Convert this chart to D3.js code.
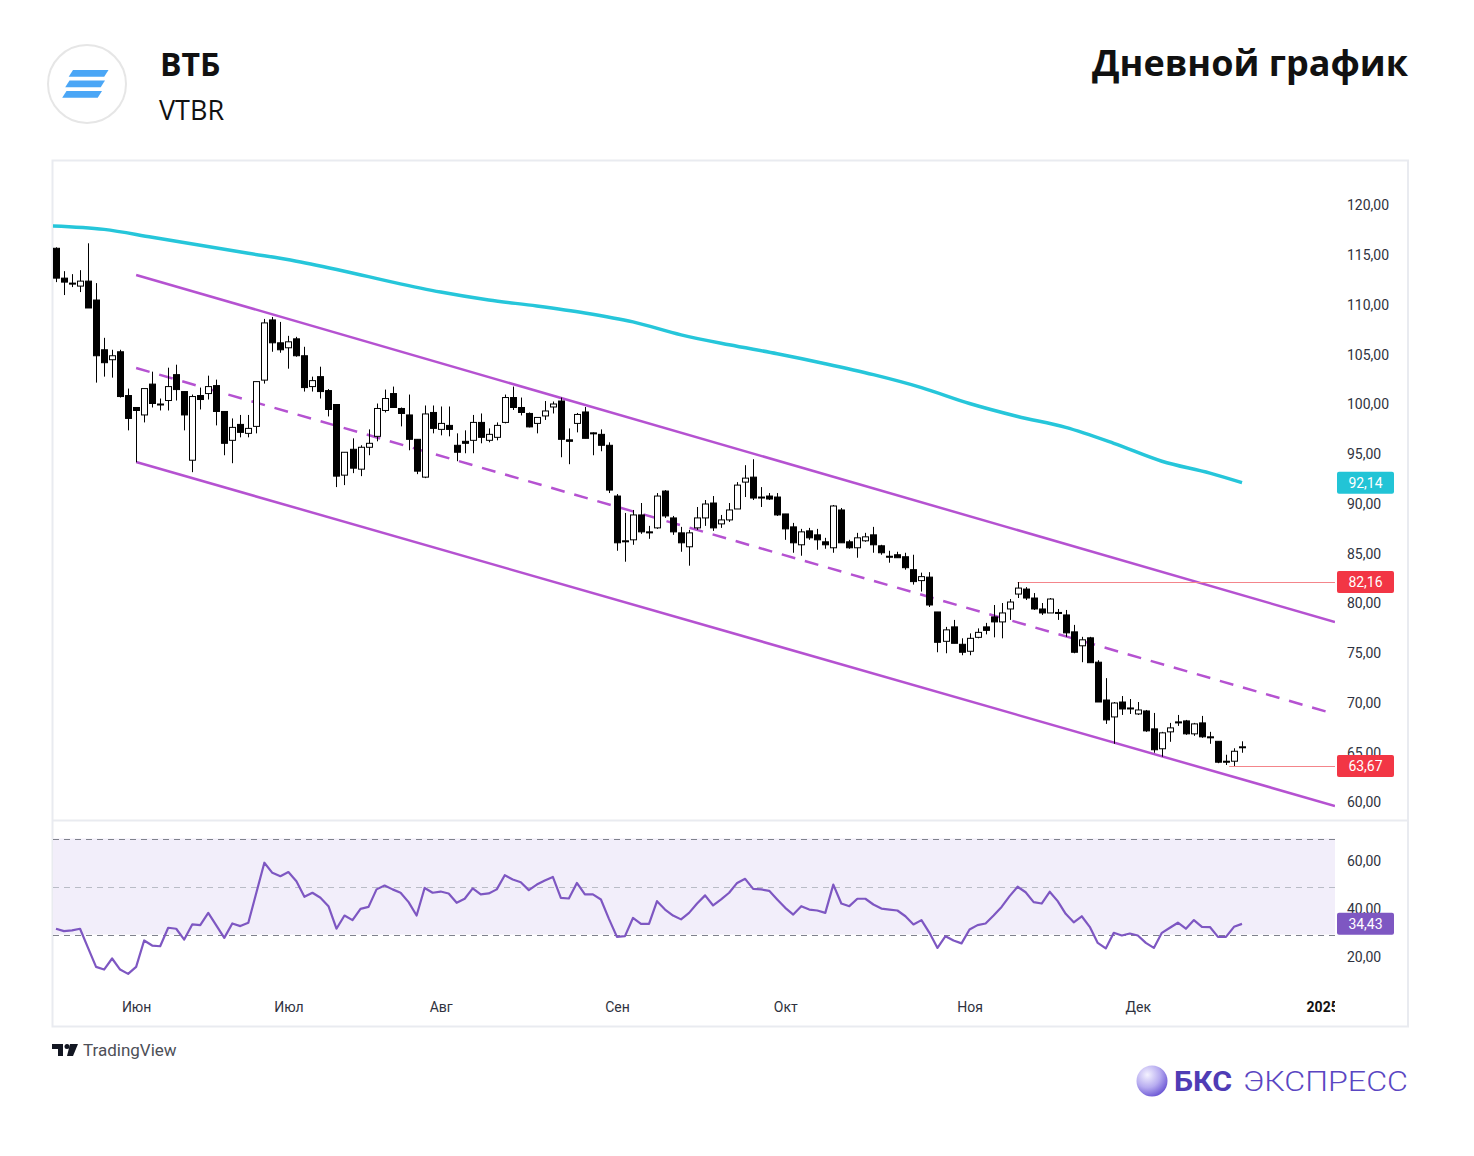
<!DOCTYPE html>
<html>
<head>
<meta charset="utf-8">
<script src="https://cdn.jsdelivr.net/npm/d3@7"></script>
<style>
  body { margin: 0; background: #fff; }
  svg { display: block; font-family: Roboto, "Noto Sans", sans-serif; }
</style>
</head>
<body>
<svg id="chart" width="1474" height="1156"></svg>
<script>
// daily candles [open, high, low, close], one row per trading day (late May - Dec 2024)
const candles = [
  [115.7,115.8,112.3,112.7],[112.7,113.4,111.0,112.3],[112.2,113.1,111.8,112.15],[111.9,113.5,111.3,112.4],
  [112.4,116.2,109.7,109.7],[110.5,112.2,102.2,104.9],[105.5,106.7,102.8,104.2],[104.5,105.5,102.7,104.9],
  [105.3,105.5,100.7,100.8],[100.9,101.6,97.4,98.6],[99.7,99.7,94.2,99.4],[98.95,101.6,98.2,101.6],
  [102.05,103.3,99.7,100.1],[100.0,100.6,99.4,100.05],[100.4,103.7,99.4,101.8],[103.0,104.0,100.4,101.5],
  [101.3,101.3,97.4,98.95],[94.4,101.0,93.2,100.8],[100.9,101.7,99.5,100.5],[101.1,102.9,100.5,101.8],
  [101.9,102.5,97.9,99.3],[99.3,99.3,94.9,96.1],[96.4,98.6,94.1,97.7],[98.0,98.95,96.7,97.2],
  [97.1,98.95,96.7,97.6],[97.8,102.3,97.1,102.3],[102.45,108.6,102.1,108.2],[108.5,108.8,105.3,106.2],
  [106.2,108.3,105.2,105.5],[105.7,106.9,103.6,106.3],[106.6,106.8,104.8,104.9],[104.9,105.8,101.3,101.7],
  [101.8,102.8,101.3,102.4],[102.8,103.8,100.6,101.3],[101.4,101.55,98.8,99.5],[100.0,100.0,91.7,92.8],
  [92.9,95.2,91.9,95.2],[95.5,96.6,93.1,93.6],[93.5,95.9,92.8,95.7],[95.7,97.5,94.9,96.1],
  [96.8,100.1,96.3,99.6],[99.4,101.5,99.2,100.6],[101.1,101.8,99.7,99.7],[99.6,99.7,97.8,99.1],
  [98.95,101.0,95.4,96.5],[96.5,96.5,93.0,93.3],[92.7,99.9,92.6,99.05],[99.2,99.9,97.1,97.6],
  [97.5,99.8,96.9,98.1],[97.9,99.8,96.8,97.5],[95.9,97.1,94.3,95.2],[96.3,97.4,95.1,96.1],
  [96.4,98.95,95.1,98.2],[98.2,99.1,96.1,96.7],[96.4,97.6,96.2,97.0],[96.7,98.2,96.4,97.9],
  [98.2,101.0,98.1,100.7],[100.7,101.8,99.45,99.7],[99.7,100.7,98.9,99.2],[99.1,99.2,97.7,97.75],
  [98.1,98.7,97.1,98.7],[98.85,100.35,98.45,99.35],[99.75,100.3,99.1,100.05],[100.35,100.7,94.7,96.5],
  [96.45,97.6,94.0,96.3],[98.1,99.15,97.2,99.0],[99.25,99.75,96.6,96.6],[97.15,97.2,94.9,97.05],
  [97.0,97.5,95.3,95.9],[95.9,96.2,91.1,91.4],[90.8,91.0,85.3,86.1],[86.3,89.1,84.2,86.2],
  [86.4,89.4,85.9,88.9],[88.9,90.1,87.0,87.2],[87.2,87.8,86.5,87.1],[87.6,91.1,87.5,90.8],
  [91.3,91.4,88.6,88.8],[88.6,88.8,86.9,87.2],[87.1,87.7,85.2,86.1],[85.7,87.4,83.8,87.1],
  [87.6,89.7,87.4,88.6],[88.6,90.4,87.8,90.0],[90.1,90.8,87.3,87.6],[88.0,88.9,87.6,88.4],
  [88.4,90.1,88.2,89.4],[89.5,92.2,89.5,91.9],[92.2,93.9,90.7,92.6],[92.7,94.5,90.4,90.6],
  [90.7,91.7,89.7,90.6],[90.8,91.1,90.4,90.5],[90.7,91.1,88.8,88.9],[89.0,89.0,86.4,87.5],
  [87.7,88.1,85.1,86.1],[85.9,87.5,84.8,87.2],[87.3,87.6,86.4,86.6],[86.9,87.5,85.4,86.4],
  [86.2,86.6,85.5,85.9],[85.6,89.9,85.1,89.8],[89.4,89.6,86.1,86.1],[86.2,86.4,85.5,85.6],
  [85.6,87.1,84.6,86.6],[86.3,87.1,86.2,86.7],[86.9,87.7,85.1,85.9],[85.8,85.9,84.9,85.1],
  [84.75,85.3,84.1,84.7],[84.9,85.2,84.6,84.6],[84.7,85.1,83.4,83.6],[83.4,84.9,81.9,82.2],
  [82.3,83.1,81.2,82.7],[82.65,83.15,79.65,79.85],[79.15,79.15,75.1,76.1],[76.2,77.65,75.0,77.35],
  [77.65,78.35,76.0,76.0],[75.9,76.5,74.8,75.1],[75.2,77.0,74.8,76.5],[76.6,77.5,76.5,77.1],
  [77.65,78.05,76.9,77.3],[78.65,79.85,76.6,78.15],[78.15,80.05,76.5,79.05],[79.45,80.45,78.35,80.15],
  [80.95,82.16,80.55,81.55],[81.45,81.65,80.35,80.55],[80.55,81.05,79.35,79.45],[79.45,80.05,78.85,79.05],
  [79.05,80.55,79.05,80.45],[79.1,79.45,78.35,79.0],[78.85,79.35,76.65,77.05],[77.15,77.85,75.0,75.1],
  [75.75,76.65,74.1,76.35],[76.55,76.65,74.05,74.05],[74.1,74.3,70.1,70.1],[70.3,72.5,67.9,68.3],
  [68.6,70.1,65.9,70.0],[70.1,70.7,68.8,69.4],[69.5,70.4,68.9,69.45],[68.9,70.1,68.8,69.3],
  [69.2,69.3,67.1,67.2],[67.4,69.0,65.0,65.3],[65.4,67.1,64.6,67.0],[67.1,68.0,66.1,67.5],
  [68.1,68.8,67.7,68.05],[68.2,68.3,66.8,66.9],[66.9,68.0,66.7,67.9],[68.0,68.7,66.5,66.6],
  [66.6,67.1,65.9,66.55],[66.15,66.15,63.95,64.05],[64.15,64.8,63.77,64.1],[64.15,65.45,63.67,65.15],
  [65.5,66.15,65.0,65.6]
];

// RSI(14), one value per candle
const rsiValues = [
  32.4,31.4,31.7,32.4,24.4,16.5,15.4,20.0,15.4,13.6,16.5,27.5,25.4,25.1,32.8,32.4,27.9,34.2,33.9,39.0,
  33.8,28.6,34.6,33.5,34.9,47.4,59.9,55.7,54.3,56.0,52.2,45.7,47.4,45.3,41.8,32.4,37.9,36.0,40.7,41.5,
  48.8,50.4,48.8,47.4,43.5,37.9,49.4,47.4,47.9,47.1,43.2,44.9,49.2,46.7,47.1,48.8,54.7,52.9,51.8,48.5,
  50.8,52.5,54.0,45.3,45.0,51.5,46.7,46.7,44.6,36.5,29.0,29.3,36.9,34.4,34.4,43.9,40.4,37.9,36.3,39.0,
  42.9,46.3,42.1,44.6,47.4,51.5,53.2,49.0,48.8,48.2,44.6,41.1,38.3,41.8,40.4,40.0,39.0,50.8,42.9,41.8,
  44.9,44.9,42.5,40.8,40.4,40.0,37.6,34.2,36.0,30.7,24.4,29.3,27.5,26.3,32.1,33.9,34.6,37.9,41.5,46.0,
  49.9,47.6,43.5,42.9,47.8,43.9,38.6,35.1,37.6,33.2,26.5,24.2,30.7,29.6,30.4,29.6,26.5,24.4,30.7,32.8,
  34.9,32.4,36.0,33.2,33.1,29.0,29.0,33.2,34.43
];

// long moving average, read at [candle index, value]
const maPoints = [
  [-0.4,117.95],[6,117.6],[12,116.8],[18,116.0],[24,115.2],[30,114.4],[36,113.4],[42,112.3],[48,111.3],
  [54,110.5],[60,109.9],[66,109.2],[72,108.3],[78,107.0],[84,106.0],[90,105.1],[96,104.1],[102,103.0],
  [108,101.7],[114,100.1],[120,98.8],[126,97.7],[132,96.1],[138,94.3],[144,93.1],[148,92.14]
];

// descending channel, [candle index, price] end points
const channelUpper = [[10, 113.02], [159.6, 78.14]];
const channelMid = [[10, 103.67], [159.6, 68.89]];
const channelLower = [[10, 94.22], [159.6, 59.65]];

const priceTicks = [60, 65, 70, 75, 80, 85, 90, 95, 100, 105, 110, 115, 120];
const rsiTicks = [20, 40, 60];
const rsiLevels = [30, 50, 70];
const monthTicks = [
  { i: 10, label: 'Июн' }, { i: 29, label: 'Июл' }, { i: 48, label: 'Авг' }, { i: 70, label: 'Сен' },
  { i: 91, label: 'Окт' }, { i: 114, label: 'Ноя' }, { i: 135, label: 'Дек' }, { i: 158, label: '2025' }
];
// horizontal marker lines: [from candle index, price]
const highMark = [120, 82.16];
const lowMark = [146.4, 63.67];

const svg = d3.select('#chart');
const fmt = v => d3.format('.2f')(v).replace('.', ',');

const left = 53, right = 1335, frameRight = 1408;
const x = d3.scaleLinear().domain([0, 148]).range([56, 1242]);
const y = d3.scaleLinear().domain([60, 120]).range([802.5, 205.5]);
const yR = d3.scaleLinear().domain([30, 70]).range([934.5, 838.5]);

//
// header
//
svg.append('circle').attr('cx', 87).attr('cy', 84).attr('r', 39)
  .attr('fill', '#fff').attr('stroke', '#e6e6e6').attr('stroke-width', 2);
const stripes = [[73, 70], [69.5, 80.5], [66.5, 91]];
stripes.forEach(([sx, sy]) => {
  svg.append('path')
    .attr('d', `M${sx},${sy} h35.5 l-4.3,6.8 h-35.5 z`)
    .attr('fill', '#4aa6f6');
});
svg.append('text').attr('x', 160).attr('y', 76).text('ВТБ')
  .attr('font-family', '"Open Sans", Roboto, sans-serif')
  .attr('font-size', 32).attr('font-weight', 700).attr('fill', '#111');
svg.append('text').attr('x', 159).attr('y', 120).text('VTBR')
  .attr('font-family', '"Open Sans", Roboto, sans-serif')
  .attr('font-size', 27).attr('fill', '#111');
svg.append('text').attr('x', 1408).attr('y', 76).text('Дневной график')
  .attr('font-family', '"Open Sans", Roboto, sans-serif')
  .attr('text-anchor', 'end').attr('font-size', 36).attr('font-weight', 700).attr('fill', '#111');

//
// frame and pane separator
//
svg.append('rect').attr('x', 52.5).attr('y', 160.5).attr('width', frameRight - 52.5).attr('height', 866)
  .attr('fill', 'none').attr('stroke', '#e9ebf0').attr('stroke-width', 2);
svg.append('line').attr('x1', 53).attr('x2', frameRight).attr('y1', 820.5).attr('y2', 820.5)
  .attr('stroke', '#e9ebf0').attr('stroke-width', 2);

const defs = svg.append('defs');
defs.append('clipPath').attr('id', 'clipPrice')
  .append('rect').attr('x', left).attr('y', 161).attr('width', right - left).attr('height', 659);
defs.append('clipPath').attr('id', 'clipRsi')
  .append('rect').attr('x', left).attr('y', 822).attr('width', right - left).attr('height', 170);
defs.append('clipPath').attr('id', 'clipTime')
  .append('rect').attr('x', left).attr('y', 990).attr('width', right - left).attr('height', 36);

//
// price pane
//
const price = svg.append('g').attr('clip-path', 'url(#clipPrice)');

const line = d3.line().x(d => x(d[0])).y(d => y(d[1]));

price.append('path').datum(maPoints)
  .attr('d', d3.line().x(d => x(d[0])).y(d => y(d[1])).curve(d3.curveMonotoneX))
  .attr('fill', 'none').attr('stroke', '#26c6da').attr('stroke-width', 3.5);

[channelUpper, channelLower].forEach(c => {
  price.append('path').datum(c).attr('d', line)
    .attr('fill', 'none').attr('stroke', '#b552d1').attr('stroke-width', 2.5);
});
price.append('path').datum(channelMid).attr('d', line)
  .attr('fill', 'none').attr('stroke', '#b552d1').attr('stroke-width', 2.5)
  .attr('stroke-dasharray', '14,10');

// max / min marker lines
[highMark, lowMark].forEach(m => {
  price.append('line').attr('x1', x(m[0])).attr('x2', right)
    .attr('y1', Math.round(y(m[1])) + 0.5).attr('y2', Math.round(y(m[1])) + 0.5)
    .attr('stroke', '#f4858b').attr('stroke-width', 1);
});

const bars = price.selectAll('g.candle').data(candles).join('g').attr('class', 'candle');
bars.append('line')
  .attr('x1', (d, i) => Math.round(x(i)) + 0.5).attr('x2', (d, i) => Math.round(x(i)) + 0.5)
  .attr('y1', d => y(d[1])).attr('y2', d => y(d[2]))
  .attr('stroke', '#000').attr('stroke-width', 1);
bars.append('rect')
  .attr('x', (d, i) => Math.round(x(i)) - 2.5)
  .attr('width', 6)
  .attr('y', d => y(Math.max(d[0], d[3])))
  .attr('height', d => Math.max(1, Math.abs(y(d[0]) - y(d[3]))))
  .attr('fill', d => (d[3] >= d[0] ? '#fff' : '#000'))
  .attr('stroke', '#000').attr('stroke-width', 1);

// price scale
const yAxis = svg.append('g').attr('transform', `translate(${right + 9},0)`)
  .call(d3.axisRight(y).tickValues(priceTicks).tickSize(0).tickPadding(3).tickFormat(fmt));
yAxis.select('.domain').remove();
yAxis.selectAll('text').attr('font-size', 14).attr('fill', '#2f3240').attr('font-family', 'Roboto, sans-serif');

//
// RSI pane
//
svg.append('rect').attr('x', left).attr('width', right - left)
  .attr('y', yR(70)).attr('height', yR(30) - yR(70)).attr('fill', '#f2eefa');
rsiLevels.forEach(v => {
  svg.append('line').attr('x1', left).attr('x2', right)
    .attr('y1', Math.round(yR(v)) + 0.5).attr('y2', Math.round(yR(v)) + 0.5)
    .attr('stroke', v === 50 ? '#b9bcc6' : '#7f828d').attr('stroke-width', 1)
    .attr('stroke-dasharray', '6,5');
});
svg.append('g').attr('clip-path', 'url(#clipRsi)')
  .append('path').datum(rsiValues)
  .attr('d', d3.line().x((d, i) => x(i)).y(d => yR(d)))
  .attr('fill', 'none').attr('stroke', '#7e57c2').attr('stroke-width', 2.2)
  .attr('stroke-linejoin', 'round');

const rAxis = svg.append('g').attr('transform', `translate(${right + 9},-1)`)
  .call(d3.axisRight(yR).tickValues(rsiTicks).tickSize(0).tickPadding(3).tickFormat(fmt));
rAxis.select('.domain').remove();
rAxis.selectAll('text').attr('font-size', 14).attr('fill', '#2f3240').attr('font-family', 'Roboto, sans-serif');

//
// last value badges
//
const badges = [
  { v: 92.14, yy: y(92.14), fill: '#22c4d6' },
  { v: highMark[1], yy: y(highMark[1]), fill: '#f23645' },
  { v: lowMark[1], yy: y(lowMark[1]), fill: '#f23645' },
  { v: rsiValues[rsiValues.length - 1], yy: yR(rsiValues[rsiValues.length - 1]), fill: '#7e57c2' }
];
badges.forEach(b => {
  svg.append('rect').attr('x', right + 2).attr('y', b.yy - 11).attr('width', 57).attr('height', 22)
    .attr('rx', 2).attr('fill', b.fill);
  svg.append('text').attr('x', right + 30.5).attr('y', b.yy + 5).text(fmt(b.v))
    .attr('text-anchor', 'middle').attr('font-size', 14).attr('fill', '#fff');
});

//
// time scale
//
const xAxis = svg.append('g').attr('clip-path', 'url(#clipTime)')
  .append('g').attr('transform', 'translate(0,999)')
  .call(d3.axisBottom(x).tickValues(monthTicks.map(d => d.i)).tickSize(0).tickPadding(3)
    .tickFormat(i => monthTicks.find(d => d.i === i).label));
xAxis.select('.domain').remove();
xAxis.selectAll('text').attr('font-size', 14).attr('fill', '#2f3240').attr('font-family', 'Roboto, sans-serif');
xAxis.selectAll('text').filter(i => i === 158).attr('font-weight', 700).attr('fill', '#111');

//
// footer
//
svg.append('path').attr('d', 'M52,1044 h11 v12 h-5 v-7 h-6 z').attr('fill', '#131722');
svg.append('circle').attr('cx', 67).attr('cy', 1046.5).attr('r', 2.5).attr('fill', '#131722');
svg.append('path').attr('d', 'M70,1044 h8 l-5,12 h-6 z').attr('fill', '#131722');
svg.append('text').attr('x', 83).attr('y', 1056).text('TradingView')
  .attr('font-size', 17).attr('fill', '#4d4f57');

const grad = defs.append('radialGradient').attr('id', 'sphere')
  .attr('cx', '35%').attr('cy', '30%').attr('r', '75%');
grad.append('stop').attr('offset', '0%').attr('stop-color', '#f4f2ff');
grad.append('stop').attr('offset', '55%').attr('stop-color', '#b7acf0');
grad.append('stop').attr('offset', '100%').attr('stop-color', '#6a55d4');
svg.append('circle').attr('cx', 1152).attr('cy', 1081).attr('r', 15.5).attr('fill', 'url(#sphere)');
svg.append('text').attr('x', 1174).attr('y', 1091).text('БКС')
  .attr('font-size', 27).attr('font-weight', 700).attr('fill', '#4f3cb5')
  .attr('textLength', 58).attr('lengthAdjust', 'spacingAndGlyphs');
svg.append('text').attr('x', 1243).attr('y', 1091).text('ЭКСПРЕСС')
  .attr('font-size', 27).attr('font-weight', 300).attr('fill', '#5a46c2')
  .attr('textLength', 165).attr('lengthAdjust', 'spacingAndGlyphs');
</script>
</body>
</html>
